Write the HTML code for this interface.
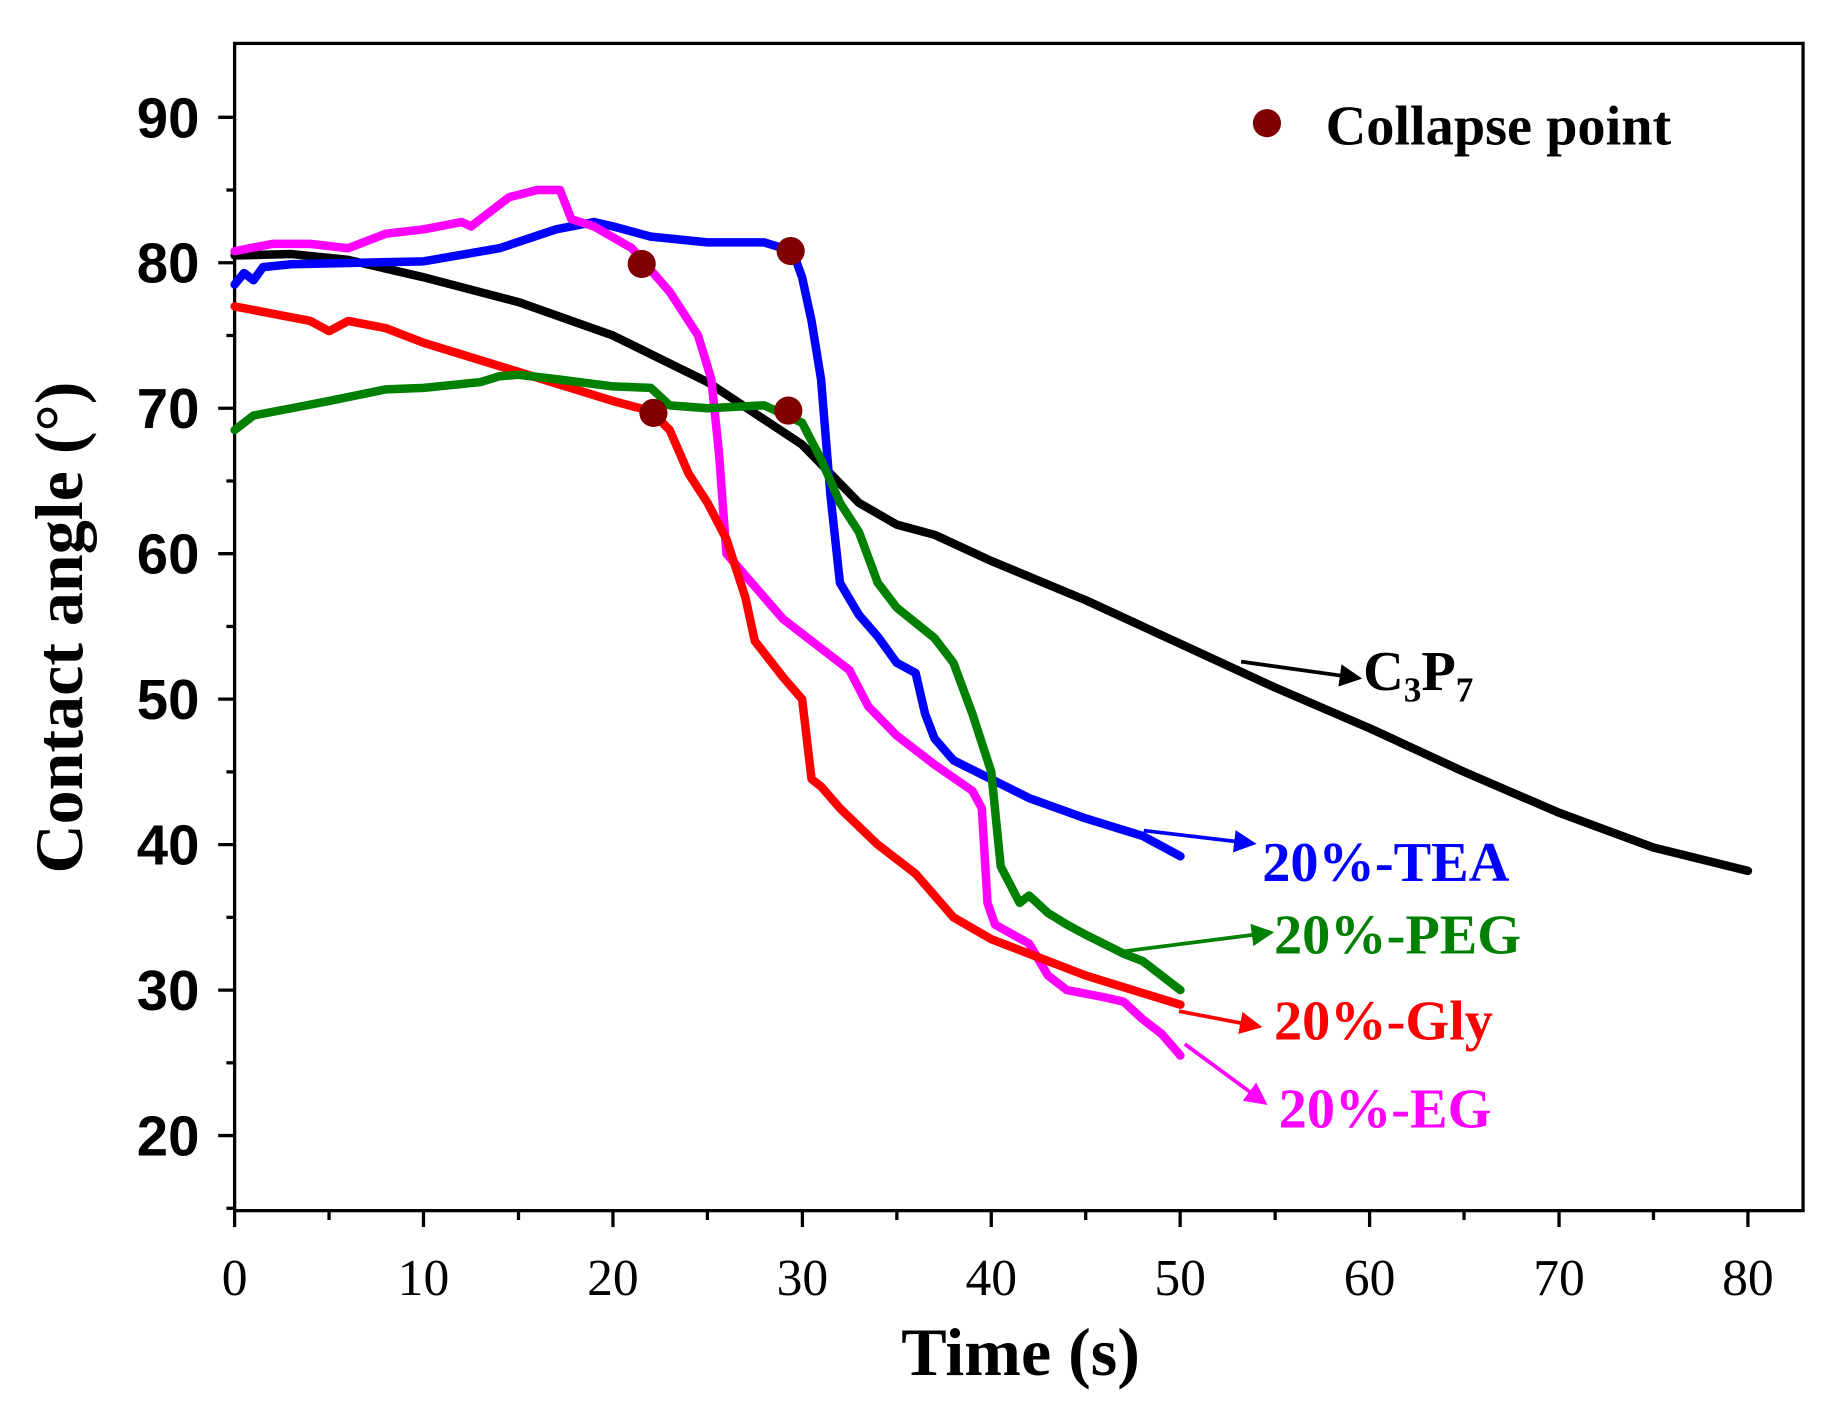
<!DOCTYPE html>
<html><head><meta charset="utf-8"><style>
html,body{margin:0;padding:0;background:#fff;}
svg{display:block;}
.ser{font-family:"Liberation Serif",serif;font-weight:bold;}
.san{font-family:"Liberation Sans",sans-serif;font-weight:bold;}
</style></head><body>
<svg width="1830" height="1420" viewBox="0 0 1830 1420" xmlns="http://www.w3.org/2000/svg">
<rect width="1830" height="1420" fill="#fff"/>
<g transform="scale(1.1731)">
<defs>
<marker id="ak" markerWidth="6" markerHeight="6" refX="5" refY="3" orient="auto" markerUnits="strokeWidth"><path d="M0,0 L6,3 L0,6 z" fill="#000"/></marker>
<marker id="ab" markerWidth="6" markerHeight="6" refX="5" refY="3" orient="auto" markerUnits="strokeWidth"><path d="M0,0 L6,3 L0,6 z" fill="#0000ff"/></marker>
<marker id="ag" markerWidth="6" markerHeight="6" refX="5" refY="3" orient="auto" markerUnits="strokeWidth"><path d="M0,0 L6,3 L0,6 z" fill="#008000"/></marker>
<marker id="ar" markerWidth="6" markerHeight="6" refX="5" refY="3" orient="auto" markerUnits="strokeWidth"><path d="M0,0 L6,3 L0,6 z" fill="#ff0000"/></marker>
<marker id="am" markerWidth="6" markerHeight="6" refX="5" refY="3" orient="auto" markerUnits="strokeWidth"><path d="M0,0 L6,3 L0,6 z" fill="#ff00ff"/></marker>
</defs>
<rect x="200" y="37" width="1337" height="995" fill="none" stroke="#000" stroke-width="2.8"/>
<g stroke="#000" stroke-width="2.8">
<line x1="186" y1="100" x2="200" y2="100"/><line x1="186" y1="224" x2="200" y2="224"/><line x1="186" y1="348" x2="200" y2="348"/><line x1="186" y1="472" x2="200" y2="472"/><line x1="186" y1="596" x2="200" y2="596"/><line x1="186" y1="720" x2="200" y2="720"/><line x1="186" y1="844" x2="200" y2="844"/><line x1="186" y1="968" x2="200" y2="968"/>
<line x1="193" y1="162" x2="200" y2="162"/><line x1="193" y1="286" x2="200" y2="286"/><line x1="193" y1="410" x2="200" y2="410"/><line x1="193" y1="534" x2="200" y2="534"/><line x1="193" y1="658" x2="200" y2="658"/><line x1="193" y1="782" x2="200" y2="782"/><line x1="193" y1="906" x2="200" y2="906"/><line x1="193" y1="1030" x2="200" y2="1030"/>
<line x1="200" y1="1032" x2="200" y2="1046"/><line x1="361" y1="1032" x2="361" y2="1046"/><line x1="522.5" y1="1032" x2="522.5" y2="1046"/><line x1="684" y1="1032" x2="684" y2="1046"/><line x1="845" y1="1032" x2="845" y2="1046"/><line x1="1006" y1="1032" x2="1006" y2="1046"/><line x1="1167.5" y1="1032" x2="1167.5" y2="1046"/><line x1="1329" y1="1032" x2="1329" y2="1046"/><line x1="1490" y1="1032" x2="1490" y2="1046"/>
<line x1="280.5" y1="1032" x2="280.5" y2="1040"/><line x1="442" y1="1032" x2="442" y2="1040"/><line x1="603" y1="1032" x2="603" y2="1040"/><line x1="764.5" y1="1032" x2="764.5" y2="1040"/><line x1="925.5" y1="1032" x2="925.5" y2="1040"/><line x1="1087" y1="1032" x2="1087" y2="1040"/><line x1="1248" y1="1032" x2="1248" y2="1040"/><line x1="1409.5" y1="1032" x2="1409.5" y2="1040"/>
</g>
<g class="san" font-size="48" text-anchor="end">
<text x="170" y="117">90</text><text x="170" y="241">80</text><text x="170" y="365">70</text><text x="170" y="489">60</text><text x="170" y="613">50</text><text x="170" y="737">40</text><text x="170" y="861">30</text><text x="170" y="985">20</text>
</g>
<g font-family="Liberation Serif, serif" font-size="44" text-anchor="middle">
<text x="200" y="1104">0</text><text x="361" y="1104">10</text><text x="522.5" y="1104">20</text><text x="684" y="1104">30</text><text x="845" y="1104">40</text><text x="1006" y="1104">50</text><text x="1167.5" y="1104">60</text><text x="1329" y="1104">70</text><text x="1490" y="1104">80</text>
</g>
<text class="ser" font-size="58" x="870" y="1172" text-anchor="middle">Time (s)</text>
<text class="ser" font-size="58" transform="translate(70,535) rotate(-90)" text-anchor="middle">Contact angle (°)</text>
<g transform="translate(200,1216) scale(16.125,-12.4)" fill="none" stroke-width="8.5" stroke-linejoin="round" stroke-linecap="round">
<polyline vector-effect="non-scaling-stroke" stroke="#000" points="0,80.5 3,80.6 6,80.2 10,79 15,77.3 20,75 25,71.8 30,67.5 33,63.5 35,62 37,61.3 40,59.5 45,56.8 50,53.8 55,50.8 60,48 65,45 70,42.2 75,39.8 80,38.2"/>
<polyline vector-effect="non-scaling-stroke" stroke="#0000ff" points="0,78.5 0.5,79.3 1,78.8 1.5,79.7 3,79.9 10,80.1 14,81 17,82.3 19,82.8 20,82.5 22,81.8 25,81.4 28,81.4 29.5,80.8 30,79 30.5,76 31,72 31.5,64 32,58 33,55.8 34,54.3 35,52.5 36,51.8 36.5,49 37,47.3 38,45.8 40,44.5 42,43.2 45,41.8 48,40.6 50,39.2"/>
<polyline vector-effect="non-scaling-stroke" stroke="#ff00ff" points="0,80.8 2,81.3 4,81.3 6,81 8,82 10,82.3 12,82.8 12.5,82.5 13.5,83.5 14.5,84.5 16,85 17.2,85 17.8,83 19,82.5 21,81 23,78 24.5,75 25.2,72 25.6,67 26,60 27,58.5 29,55.5 31,53.5 32.5,52 33.5,49.5 35,47.5 37,45.5 39,43.7 39.5,42.5 39.8,36 40.2,34.5 42,33.2 43,31 44,30 46,29.5 47,29.2 48,28 49,27 50,25.5"/>
<polyline vector-effect="non-scaling-stroke" stroke="#ff0000" points="0,77 2,76.5 4,76 5,75.3 6,76 8,75.5 10,74.5 15,72.5 20,70.5 22,69.8 23,68.5 24,65.5 25,63.5 26,61 27,57 27.5,54 29,51.5 30,50 30.5,44.5 31,44 32,42.5 34,40 36,38 38,35 40,33.5 42,32.5 45,31 48,29.8 50,29"/>
<polyline vector-effect="non-scaling-stroke" stroke="#008000" points="0,68.5 1,69.5 3,70 5,70.5 8,71.3 10,71.4 13,71.8 14,72.2 15,72.3 17,72 20,71.5 22,71.4 23,70.2 25,70 28,70.2 30,69 31,66.5 32,63.5 33,61.5 34,58 35,56.3 37,54.2 38,52.5 39,49 40,45 40.5,38.5 41.5,36 42,36.5 43,35.3 44,34.5 45,33.8 47,32.5 48,32 50,30"/>
</g>
<g fill="#800000">
<circle cx="547" cy="225" r="12"/><circle cx="674" cy="214" r="12"/><circle cx="557" cy="352" r="12"/><circle cx="672" cy="350" r="12"/>
<circle cx="1080" cy="105" r="12"/>
</g>
<text class="ser" font-size="48" x="1130" y="123">Collapse point</text>
<g stroke-width="3.2" fill="none">
<line x1="1058" y1="564" x2="1158" y2="578" stroke="#000" marker-end="url(#ak)"/>
<line x1="975" y1="708" x2="1068" y2="719" stroke="#0000ff" marker-end="url(#ab)"/>
<line x1="950" y1="812" x2="1083" y2="795" stroke="#008000" marker-end="url(#ag)"/>
<line x1="1005" y1="862" x2="1073" y2="875" stroke="#ff0000" marker-end="url(#ar)"/>
<line x1="1010" y1="890" x2="1078" y2="940" stroke="#ff00ff" marker-end="url(#am)"/>
</g>
<text class="ser" font-size="48" x="1162" y="588">C<tspan font-size="30" dy="10">3</tspan><tspan dy="-10">P</tspan><tspan font-size="30" dy="10">7</tspan></text>
<g class="ser" font-size="48">
<text x="1076" y="751" fill="#0000ff">20%-TEA</text>
<text x="1086" y="813" fill="#008000">20%-PEG</text>
<text x="1086" y="886" fill="#ff0000">20%-Gly</text>
<text x="1090" y="961" fill="#ff00ff">20%-EG</text>
</g>
</g>
</svg>
</body></html>
